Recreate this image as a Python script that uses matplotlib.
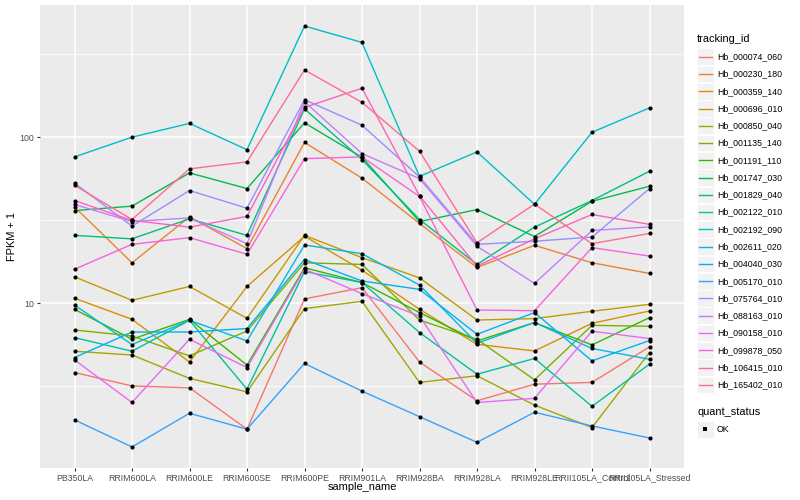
import matplotlib
matplotlib.use("Agg")
import matplotlib.pyplot as plt
import numpy as np
from matplotlib.lines import Line2D
from matplotlib.patches import Rectangle
from matplotlib.ticker import FixedLocator, NullFormatter

FONT = ["Liberation Sans", "DejaVu Sans"]
plt.rcParams["font.family"] = FONT

W, H = 800, 500

samples = ["PB350LA", "RRIM600LA", "RRIM600LE", "RRIM600SE", "RRIM600PE",
           "RRIM901LA", "RRIM928BA", "RRIM928LA", "RRIM928LE",
           "RRII105LA_Control", "RRII105LA_Stressed"]

tracking_ids = ["Hb_000074_060", "Hb_000230_180", "Hb_000359_140", "Hb_000696_010",
                "Hb_000850_040", "Hb_001135_140", "Hb_001191_110", "Hb_001747_030",
                "Hb_001829_040", "Hb_002122_010", "Hb_002192_090", "Hb_002611_020",
                "Hb_004040_030", "Hb_005170_010", "Hb_075764_010", "Hb_088163_010",
                "Hb_090158_010", "Hb_099878_050", "Hb_106415_010", "Hb_165402_010"]

# FPKM + 1, one list per tracking_id, in sample order
hb_000074_060 = [3.82, 3.17, 3.09, 1.74, 10.6, 12.4, 4.42, 2.58, 3.25, 3.33, 5.45]
hb_000230_180 = [38.0, 17.5, 33.1, 21.3, 93.0, 56.6, 30.2, 16.4, 22.3, 17.5, 15.1]
hb_000359_140 = [10.7, 7.99, 4.42, 12.6, 25.3, 15.8, 9.18, 5.65, 5.15, 7.56, 8.97]
hb_000696_010 = [14.4, 10.4, 12.6, 8.10, 25.6, 18.8, 14.2, 7.91, 8.07, 8.93, 9.84]
hb_000850_040 = [5.13, 4.87, 3.52, 2.92, 9.27, 10.25, 3.33, 3.65, 2.43, 1.78, 5.04]
hb_001135_140 = [6.89, 6.34, 4.81, 6.80, 17.5, 17.1, 7.91, 6.06, 3.45, 7.35, 7.25]
hb_001191_110 = [9.18, 6.06, 7.99, 4.23, 16.35, 13.3, 8.77, 5.92, 7.64, 5.60, 8.18]
hb_001747_030 = [36.1, 38.4, 60.9, 49.0, 122.0, 75.6, 31.0, 36.6, 25.2, 41.1, 50.6]
hb_001829_040 = [25.6, 24.4, 32.2, 25.6, 148.0, 73.2, 31.9, 17.1, 28.7, 41.5, 62.3]
hb_002122_010 = [6.20, 5.13, 7.88, 3.03, 15.5, 13.3, 6.65, 3.73, 4.64, 2.39, 4.29]
hb_002192_090 = [76.0, 100.0, 121.0, 84.0, 467.0, 372.0, 58.0, 81.5, 39.4, 107.0, 150.0]
hb_002611_020 = [9.74, 5.63, 7.88, 5.92, 22.4, 19.85, 12.85, 5.73, 7.64, 5.33, 4.59]
hb_004040_030 = [4.70, 6.70, 6.70, 7.03, 18.3, 13.6, 12.1, 6.49, 8.77, 4.49, 5.95]
hb_005170_010 = [1.98, 1.36, 2.17, 1.74, 4.33, 2.95, 2.07, 1.45, 2.20, 1.82, 1.54]
hb_075764_010 = [52.9, 29.1, 47.7, 37.3, 168.0, 118.0, 57.6, 22.6, 23.6, 25.0, 49.0]
hb_088163_010 = [39.3, 31.0, 32.6, 22.8, 163.5, 79.6, 56.3, 22.0, 13.15, 27.4, 28.8]
hb_090158_010 = [4.55, 2.52, 6.06, 4.09, 16.0, 11.4, 8.36, 2.52, 2.67, 6.77, 6.12]
hb_099878_050 = [16.0, 22.6, 24.8, 19.7, 74.2, 76.0, 43.9, 9.09, 9.0, 21.6, 19.2]
hb_106415_010 = [41.5, 31.5, 28.7, 33.3, 151.0, 197.0, 44.3, 16.7, 24.4, 34.2, 29.8]
hb_165402_010 = [51.3, 31.9, 64.4, 71.0, 254.0, 162.0, 82.2, 23.1, 39.5, 22.8, 26.3]

fpkm = [hb_000074_060, hb_000230_180, hb_000359_140, hb_000696_010, hb_000850_040,
        hb_001135_140, hb_001191_110, hb_001747_030, hb_001829_040, hb_002122_010,
        hb_002192_090, hb_002611_020, hb_004040_030, hb_005170_010, hb_075764_010,
        hb_088163_010, hb_090158_010, hb_099878_050, hb_106415_010, hb_165402_010]

# ggplot2 default hue palette for 20 levels
HUE20 = ["#F8766D", "#EA8331", "#D89000", "#C09B00", "#A3A500", "#7CAE00", "#39B600",
         "#00BB4E", "#00BF7D", "#00C1A3", "#00BFC4", "#00BAE0", "#00B0F6", "#35A2FF",
         "#9590FF", "#C77CFF", "#E76BF3", "#FA62DB", "#FF62BC", "#FF6C91"]

PANEL_BG = "#EBEBEB"
TICK_TXT = "#4D4D4D"


def fx(px):
    return px / W


def fy(py):
    return 1.0 - py / H


fig = plt.figure(figsize=(W / 100, H / 100), dpi=100)
ax = fig.add_axes([fx(40), fy(468), 644 / W, 463 / H])
ax.set_facecolor(PANEL_BG)
for s in ax.spines.values():
    s.set_visible(False)

x = np.arange(1, len(samples) + 1)
for vals, col in zip(fpkm, HUE20):
    ax.plot(x, vals, color=col, lw=1.0, zorder=2, solid_capstyle="butt")
for vals in fpkm:
    ax.plot(x, vals, "o", color="black", ms=3.0, mew=0, zorder=3)

# ggplot-like log scale with 5% expansion
allv = np.log10(np.concatenate([np.asarray(v) for v in fpkm]))
lo, hi = allv.min(), allv.max()
pad = 0.05 * (hi - lo)
ax.set_yscale("log")
ax.set_ylim(10 ** (lo - pad), 10 ** (hi + pad))
ax.set_xlim(0.4, len(samples) + 0.6)

ax.yaxis.set_major_locator(FixedLocator([10, 100]))
ax.set_yticklabels(["10", "100"])
ax.yaxis.set_minor_locator(FixedLocator([10 ** 0.5, 10 ** 1.5, 10 ** 2.5]))
ax.yaxis.set_minor_formatter(NullFormatter())
ax.set_xticks(x)
ax.set_xticklabels(samples)

ax.grid(which="major", color="white", lw=1.1, zorder=0)
ax.grid(which="minor", axis="y", color="white", lw=0.55, zorder=0)
ax.set_axisbelow(True)
ax.tick_params(which="major", length=2.0, width=0.8, color="#333333",
               labelsize=6.3, labelcolor=TICK_TXT, pad=2.0)
ax.tick_params(which="minor", length=0)

fig.text(fx(12), fy(236.5), "FPKM + 1", rotation=90, ha="center", va="center",
         fontsize=7.9)
fig.text(fx(362), fy(487), "sample_name", ha="center", va="center", fontsize=7.9)

# legend: tracking_id
fig.text(fx(697), fy(39.5), "tracking_id", ha="left", va="center", fontsize=7.9)
step = 17.27
for i, (name, col) in enumerate(zip(tracking_ids, HUE20)):
    yc = 56.7 + i * step
    fig.patches.append(Rectangle((fx(697), fy(yc + 8.3)), 16.6 / W, 16.6 / H,
                                 transform=fig.transFigure, facecolor="#F2F2F2",
                                 edgecolor="white", lw=0.6))
    fig.lines.append(Line2D([fx(698.7), fx(712)], [fy(yc), fy(yc)], color=col,
                            lw=1.0, transform=fig.transFigure))
    fig.text(fx(717), fy(yc), name, ha="left", va="center", fontsize=6.3)

# legend: quant_status
fig.text(fx(697), fy(412.3), "quant_status", ha="left", va="center", fontsize=7.9)
fig.patches.append(Rectangle((fx(697), fy(429.3 + 8.3)), 16.6 / W, 16.6 / H,
                             transform=fig.transFigure, facecolor="#F2F2F2",
                             edgecolor="white", lw=0.6))
fig.lines.append(Line2D([fx(705.3)], [fy(429.3)], marker="s", color="black", ms=2.6,
                        mew=0, lw=0, transform=fig.transFigure))
fig.text(fx(717), fy(429.3), "OK", ha="left", va="center", fontsize=6.3)

fig.savefig("out.png", dpi=100)
